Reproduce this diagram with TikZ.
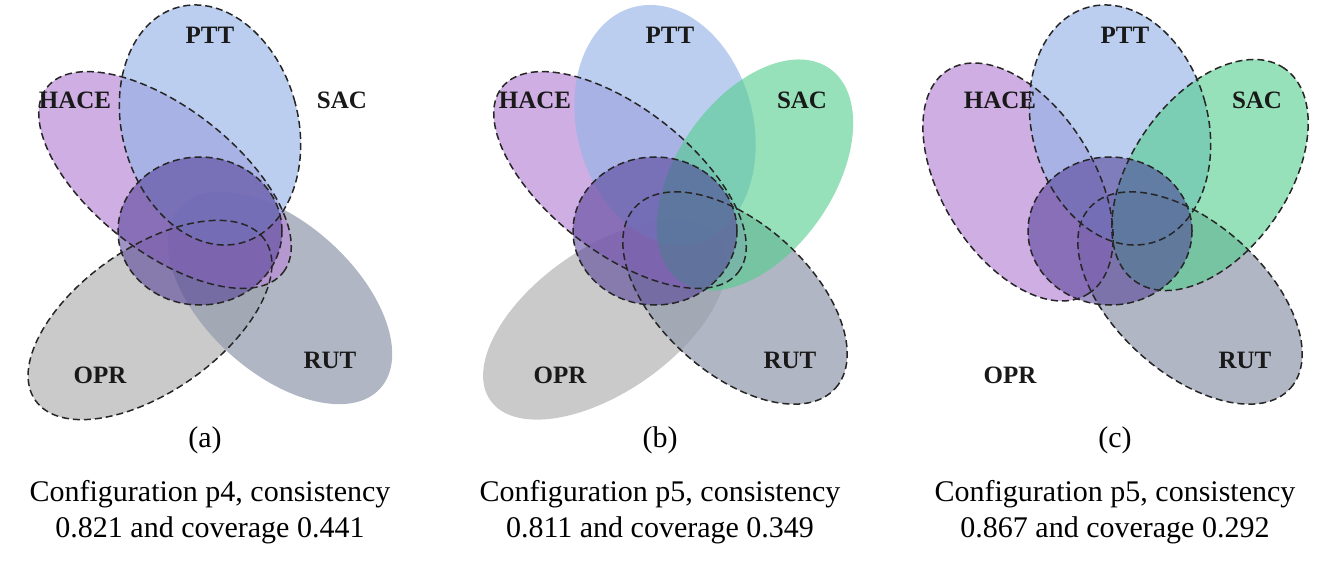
\documentclass[tikz,border=0pt]{standalone}
\usepackage{fontspec}
\setmainfont{Liberation Serif}
\begin{document}
\begin{tikzpicture}[x=1pt,y=1pt,
  dsh/.style={draw=black!85,dash pattern=on 7pt off 4pt,line width=1.5pt},
  lab/.style={font=\fontsize{25}{27}\selectfont\bfseries,text=black!90},
  captxt/.style={font=\fontsize{30}{36}\selectfont,align=center}]
\definecolor{cH}{RGB}{185,140,215}
\definecolor{cP}{RGB}{150,180,230}
\definecolor{cS}{RGB}{80,205,140}
\definecolor{cO}{RGB}{180,180,180}
\definecolor{cR}{RGB}{150,158,175}
\definecolor{cC}{RGB}{80,60,150}
\useasboundingbox (0,0) rectangle (1325,-564);
\def\eH{[rotate around={-38:(165,-180)}] (165,-180) ellipse [x radius=150pt,y radius=72pt]}
\def\eHc{[rotate around={-58:(108,-182)}] (108,-182) ellipse [x radius=132pt,y radius=76pt]}
\def\eP{[rotate around={15:(210,-125)}] (210,-125) ellipse [x radius=88pt,y radius=122pt]}
\def\eC{(200,-231) ellipse [x radius=82pt,y radius=74pt]}
\def\eO{[rotate around={35:(150,-320)}] (150,-320) ellipse [x radius=140pt,y radius=72pt]}
\def\eR{[rotate around={-42:(280,-298)}] (280,-298) ellipse [x radius=135pt,y radius=75pt]}
\def\eS{[rotate around={55:(300,-175)}] (300,-175) ellipse [x radius=130pt,y radius=78pt]}
% ---------- (a)
\begin{scope}[shift={(0,0)}]
\fill[cO,fill opacity=.7] \eO;
\fill[cR,fill opacity=.75] \eR;
\fill[cH,fill opacity=.7] \eH;
\fill[cP,fill opacity=.65] \eP;
\fill[cC,fill opacity=.55] \eC;
\draw[dsh] \eO; \draw[dsh] \eH; \draw[dsh] \eP; \draw[dsh] \eC;
\node[lab] (aP) at (210,-35) {PTT};
\node[lab] (aH) at (75,-100) {HACE};
\node[lab] (aS) at (342,-100) {SAC};
\node[lab] (aO) at (100,-375) {OPR};
\node[lab] (aR) at (330,-360) {RUT};
\node[captxt] (aa) at (205,-440) {(a)};
\node[captxt] (ac) at (210,-512) {Configuration p4, consistency\\0.821 and coverage 0.441};
\end{scope}
% ---------- (b)
\begin{scope}[shift={(455,0)}]
\fill[cO,fill opacity=.7] \eO;
\fill[cR,fill opacity=.75] \eR;
\fill[cH,fill opacity=.7] \eH;
\fill[cP,fill opacity=.65] \eP;
\fill[cS,fill opacity=.6] \eS;
\fill[cC,fill opacity=.55] \eC;
\draw[dsh] \eH; \draw[dsh] \eR; \draw[dsh] \eC;
\node[lab] (bP) at (215,-35) {PTT};
\node[lab] (bH) at (80,-100) {HACE};
\node[lab] (bS) at (347,-100) {SAC};
\node[lab] (bO) at (105,-375) {OPR};
\node[lab] (bR) at (335,-360) {RUT};
\node[captxt] (ba) at (205,-440) {(b)};
\node[captxt] (bc) at (205,-512) {Configuration p5, consistency\\0.811 and coverage 0.349};
\end{scope}
% ---------- (c)
\begin{scope}[shift={(910,0)}]
\fill[cR,fill opacity=.75] \eR;
\fill[cH,fill opacity=.7] \eHc;
\fill[cP,fill opacity=.65] \eP;
\fill[cS,fill opacity=.6] \eS;
\fill[cC,fill opacity=.55] \eC;
\draw[dsh] \eR; \draw[dsh] \eHc; \draw[dsh] \eP; \draw[dsh] \eS; \draw[dsh] \eC;
\node[lab] (cP) at (215,-35) {PTT};
\node[lab] (cH) at (90,-100) {HACE};
\node[lab] (cS) at (347,-100) {SAC};
\node[lab] (cO) at (100,-375) {OPR};
\node[lab] (cR) at (335,-360) {RUT};
\node[captxt] (ca) at (205,-440) {(c)};
\node[captxt] (cc) at (205,-512) {Configuration p5, consistency\\0.867 and coverage 0.292};
\end{scope}
\end{tikzpicture}
\end{document}
